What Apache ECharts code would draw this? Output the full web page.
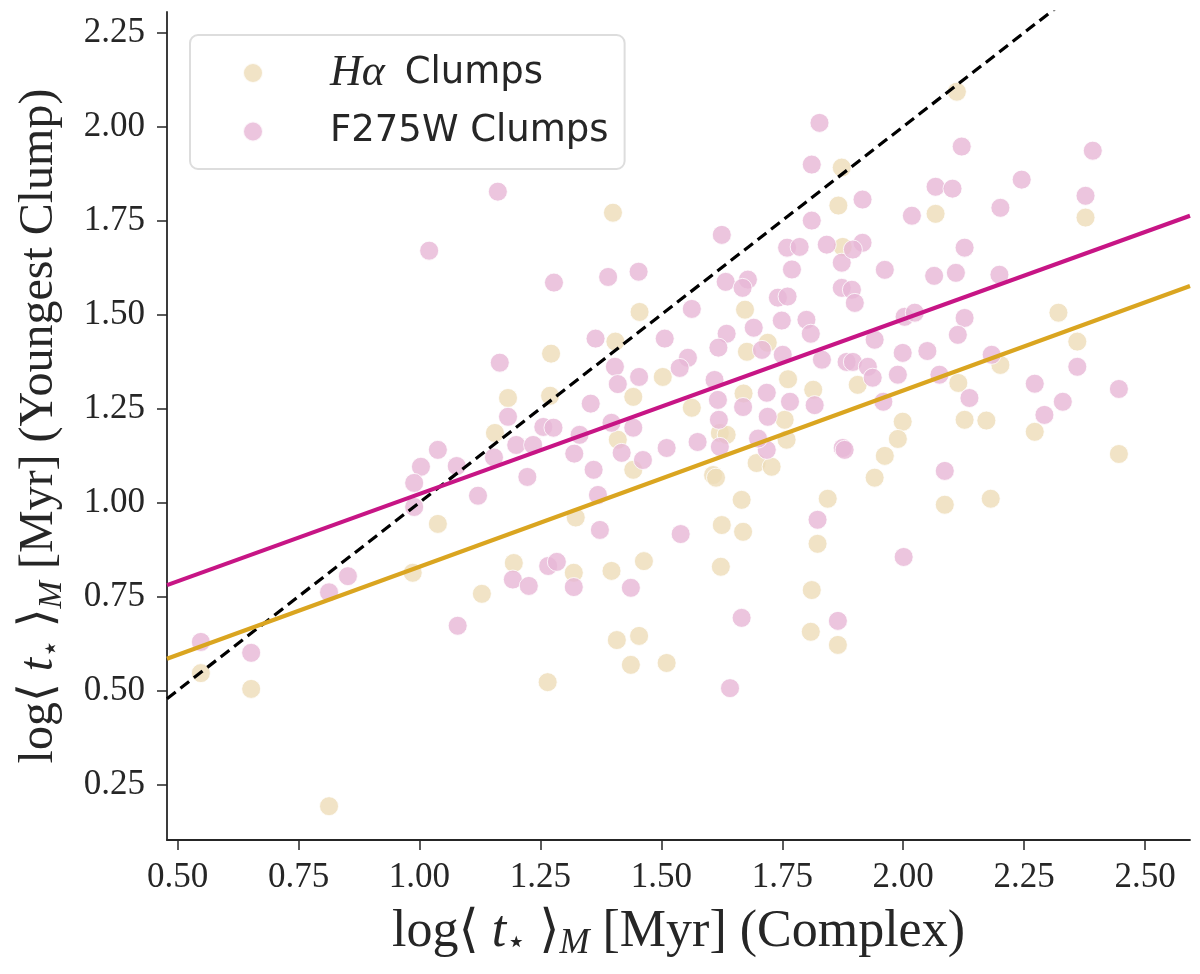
<!DOCTYPE html>
<html><head><meta charset="utf-8">
<script src="https://cdn.jsdelivr.net/npm/echarts@6/dist/echarts.min.js"></script>
<style>html,body{margin:0;padding:0;background:#fff}#c{width:1200px;height:974px}</style>
</head><body><div id="c"></div>
<script>
// H-alpha clumps (x = complex age, y = youngest clump age)
const haX = [1.038,0.986,1.195,1.129,0.548,0.652,0.813,1.183,1.156,1.40,1.866,1.455,1.673,1.405,1.272,1.677,1.503,1.762,1.814,1.755,1.563,1.442,1.27,1.41,1.442,1.621,1.635,1.697,1.728,1.607,1.759,1.323,1.613,1.666,1.625,1.669,1.844,1.823,1.319,1.397,1.464,1.623,1.811,1.809,1.865,1.408,1.454,1.437,1.511,1.265,2.111,1.873,2.377,2.067,2.321,2.36,2.201,2.114,1.906,1.999,2.127,2.172,1.989,1.962,1.941,2.272,2.446,2.086,2.181,1.875,1.72,1.67];
const haY = [0.943,0.813,0.839,0.757,0.546,0.504,0.192,1.278,1.185,1.771,1.79,1.507,1.513,1.428,1.396,1.401,1.334,1.328,1.30,1.22,1.252,1.281,1.284,1.167,1.087,1.185,1.18,1.105,1.095,1.073,1.167,0.96,1.066,1.007,0.94,0.922,1.01,0.89,0.813,0.818,0.844,0.829,0.767,0.656,0.621,0.634,0.645,0.568,0.573,0.522,2.093,1.891,1.758,1.768,1.505,1.428,1.366,1.318,1.313,1.215,1.22,1.218,1.169,1.124,1.066,1.188,1.129,0.994,1.01,1.68,1.425,1.29];
// F275W clumps
const fX = [1.162,1.02,1.166,1.183,1.038,1.003,1.077,1.20,1.154,0.989,1.121,0.989,0.852,0.813,1.079,0.548,0.652,1.193,1.625,1.811,1.278,1.39,1.453,1.76,1.786,1.842,1.873,1.77,1.633,1.679,1.668,1.741,1.761,1.873,1.563,1.749,1.80,1.809,1.691,1.635,1.618,1.507,1.364,1.555,1.538,1.708,1.751,1.832,1.883,1.404,1.41,1.454,1.817,1.766,1.718,1.669,1.72,1.619,1.617,1.61,1.354,1.256,1.277,1.331,1.397,1.442,1.418,1.462,1.511,1.36,1.575,1.621,1.718,1.875,1.223,1.235,1.369,1.373,1.54,1.823,1.226,1.266,1.284,1.319,1.437,1.666,1.865,1.642,2.121,2.392,2.245,2.067,2.102,1.916,2.201,2.377,2.018,1.916,1.896,1.962,2.127,2.064,2.109,2.199,1.894,1.90,2.003,2.024,2.127,2.113,1.941,1.896,1.927,1.937,1.999,1.989,2.05,2.183,2.075,2.137,2.36,2.272,2.446,2.33,2.292,1.959,1.879,2.086,2.001,1.827,1.811,1.32,1.70];
const fY = [1.827,1.67,1.372,1.228,1.14,1.095,1.097,1.153,1.12,1.052,1.018,0.988,0.804,0.761,0.672,0.629,0.600,0.795,1.712,1.75,1.585,1.60,1.614,1.678,1.68,1.686,1.638,1.62,1.587,1.593,1.571,1.545,1.548,1.571,1.515,1.484,1.486,1.449,1.465,1.449,1.412,1.436,1.436,1.385,1.358,1.406,1.393,1.38,1.374,1.361,1.315,1.334,1.259,1.268,1.292,1.254,1.228,1.22,1.273,1.326,1.263,1.201,1.199,1.18,1.212,1.199,1.132,1.113,1.145,1.087,1.161,1.148,1.14,1.145,1.068,1.153,1.02,0.927,0.916,0.954,0.778,0.831,0.842,0.775,0.773,0.693,0.685,0.506,1.947,1.936,1.859,1.84,1.835,1.806,1.784,1.816,1.763,1.691,1.673,1.619,1.678,1.603,1.611,1.606,1.566,1.531,1.494,1.505,1.491,1.446,1.433,1.374,1.361,1.332,1.398,1.34,1.403,1.393,1.34,1.278,1.361,1.316,1.302,1.268,1.233,1.268,1.14,1.084,0.855,2.01,1.899,1.13,1.17];
// linear fits
const haFit = {slope: 0.469, intercept: 0.360};
const fFit = {slope: 0.4646, intercept: 0.558};
const xTicks = [0.50,0.75,1.00,1.25,1.50,1.75,2.00,2.25,2.50];
const yTicks = [0.25,0.50,0.75,1.00,1.25,1.50,1.75,2.00,2.25];
const xLim = [0.478, 2.593];
const yLim = [0.102, 2.305];

const zip = (a,b) => a.map((v,i)=>[v,b[i]]);
const fitLine = f => xLim.map(x => [x, f.intercept + f.slope*x]);
const SERIF = '"Liberation Serif","DejaVu Serif",serif';
const TXT = '#262626';
function nameRich(fs) {
  return {
    a: {fontFamily: SERIF, fontSize: fs, color: TXT, lineHeight: 60},
    i: {fontFamily: SERIF, fontSize: fs, color: TXT, fontStyle: 'italic', lineHeight: 60},
    s: {fontFamily: '"DejaVu Sans",sans-serif', fontSize: Math.round(fs*0.62), color: TXT, verticalAlign: 'bottom', lineHeight: 60, padding:[0,0,2,0]},
    m: {fontFamily: SERIF, fontSize: Math.round(fs*0.69), color: TXT, fontStyle: 'italic', verticalAlign: 'bottom', lineHeight: 60}
  };
}
const axisCommon = {
  type: 'value',
  axisLine: {show: true, lineStyle: {color: TXT, width: 1.8}},
  axisTick: {show: true, length: 10, lineStyle: {color: TXT, width: 1.5}},
  axisLabel: {fontFamily: SERIF, fontSize: 35, color: TXT, formatter: v => v.toFixed(2)},
  splitLine: {show: false},
  nameLocation: 'middle'
};
const chart = echarts.init(document.getElementById('c'), null, {renderer: 'canvas'});
chart.setOption({
  animation: false,
  backgroundColor: '#fff',
  grid: {left: 167, right: 10, top: 12, bottom: 134, containLabel: false, outerBoundsMode: 'none'},
  xAxis: Object.assign({}, axisCommon, {
    min: xLim[0], max: xLim[1],
    axisTick: Object.assign({}, axisCommon.axisTick, {customValues: xTicks}),
    axisLabel: Object.assign({}, axisCommon.axisLabel, {customValues: xTicks, margin: 20}),
    name: '{a|log⟨ }{i|t}{s|⋆}{a| ⟩}{m|M}{a| [Myr] (Complex)}',
    nameTextStyle: {rich: nameRich(52)},
    nameGap: 62
  }),
  yAxis: Object.assign({}, axisCommon, {
    min: yLim[0], max: yLim[1],
    axisTick: Object.assign({}, axisCommon.axisTick, {customValues: yTicks}),
    axisLabel: Object.assign({}, axisCommon.axisLabel, {customValues: yTicks, margin: 22}),
    name: '{a|log⟨ }{i|t}{s|⋆}{a| ⟩}{m|M}{a| [Myr] (Youngest Clump)}',
    nameTextStyle: {rich: nameRich(48)},
    nameGap: 98
  }),
  legend: {
    data: ['Hα Clumps', 'F275W Clumps'],
    orient: 'vertical', left: 190, top: 35,
    padding: [16, 16, 19, 52],
    itemGap: 18, itemWidth: 20, itemHeight: 20, icon: 'circle',
    backgroundColor: '#fff', borderColor: '#dddddd', borderWidth: 2, borderRadius: 8,
    formatter: n => n === 'Hα Clumps' ? '{p| }{h|Hα}{n| Clumps}' : '{p| }{n|' + n + '}',
    textStyle: {
      rich: {
        p: {width: 62},
        h: {fontFamily: SERIF, fontStyle: 'italic', fontSize: 44, color: TXT, lineHeight: 43, padding: [0, 8, 0, 0]},
        n: {fontFamily: '"DejaVu Sans",sans-serif', fontSize: 37, color: TXT, lineHeight: 43}
      }
    }
  },
  series: [
    {name: 'Hα Clumps', type: 'scatter', data: zip(haX, haY), symbolSize: 19, z: 2,
     itemStyle: {color: '#eedcb8', borderColor: '#ffffff', borderWidth: 1}},
    {name: 'F275W Clumps', type: 'scatter', data: zip(fX, fY), symbolSize: 19, z: 3,
     itemStyle: {color: '#e7b7d6', borderColor: '#ffffff', borderWidth: 1}},
    {name: 'one-to-one', type: 'line', data: [[xLim[0], xLim[0]], [xLim[1], xLim[1]]], showSymbol: false, symbol: 'none', z: 4,
     lineStyle: {color: '#000', width: 3.2, type: [11, 6]}, silent: true},
    {name: 'fitF', type: 'line', data: fitLine(fFit), showSymbol: false, symbol: 'none', z: 5,
     lineStyle: {color: '#c71585', width: 4.2}, silent: true},
    {name: 'fitHa', type: 'line', data: fitLine(haFit), showSymbol: false, symbol: 'none', z: 5,
     lineStyle: {color: '#daa520', width: 4.2}, silent: true}
  ]
});
</script></body></html>
